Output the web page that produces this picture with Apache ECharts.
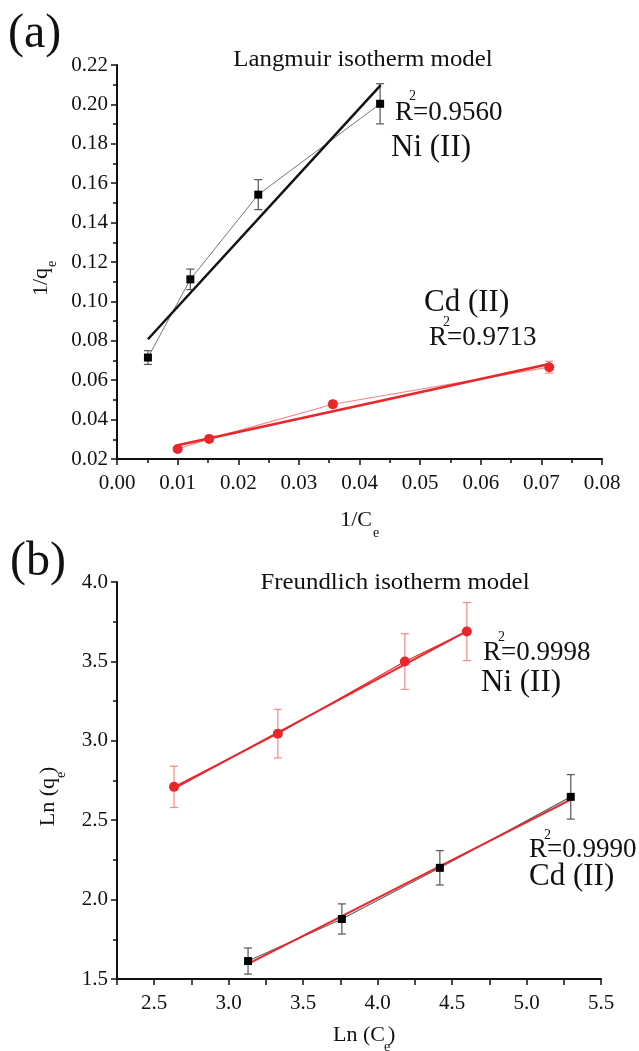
<!DOCTYPE html>
<html lang="en">
<head>
  <meta charset="utf-8">
  <title>Langmuir / Freundlich isotherms</title>
  <style>
    html, body { margin: 0; padding: 0; background: #fff; }
    #box { width: 639px; height: 1051px; }
  </style>
</head>
<body>
  <script src="https://cdn.jsdelivr.net/npm/echarts@6/dist/echarts.min.js"></script>
  <div id="box"></div>
  <script>
    // (a) Langmuir: 1/Ce vs 1/qe
    var langX_Ni = [0.0051, 0.0121, 0.0233, 0.0434];
    var langY_Ni = [0.0715, 0.1112, 0.1542, 0.2003];
    var langErr_Ni = [0.0035, 0.0052, 0.0076, 0.0102];
    var langFitX_Ni = [0.0051, 0.0435];
    var langFitY_Ni = [0.0808, 0.2098];

    var langX_Cd = [0.0100, 0.0152, 0.0356, 0.0713];
    var langY_Cd = [0.0251, 0.0302, 0.0478, 0.0666];
    var langErr_Cd = [0.0012, 0.0014, 0.0018, 0.0030];
    var langFitX_Cd = [0.0100, 0.0713];
    var langFitY_Cd = [0.0270, 0.0682];

    // (b) Freundlich: Ln(Ce) vs Ln(qe)
    var freX_Ni = [2.633, 3.330, 4.183, 4.599];
    var freY_Ni = [2.710, 3.045, 3.499, 3.688];
    var freErr_Ni = [0.130, 0.153, 0.175, 0.183];
    var freFitX_Ni = [2.633, 4.599];
    var freFitY_Ni = [2.700, 3.690];

    var freX_Cd = [3.130, 3.760, 4.418, 5.297];
    var freY_Cd = [1.613, 1.878, 2.200, 2.647];
    var freErr_Cd = [0.082, 0.095, 0.108, 0.140];
    var freFitX_Cd = [3.130, 5.297];
    var freFitY_Cd = [1.595, 2.630];

    var RED = '#e8262b';
    var RED_LIGHT = '#f28a8a';
    var FONT = '"Liberation Serif", "Times New Roman", serif';

    function pairs(xs, ys) {
      return xs.map(function (x, i) { return [x, ys[i]]; });
    }

    // error bars drawn through the axes
    function errBars(xs, ys, es, idx, color) {
      return {
        type: 'custom',
        xAxisIndex: idx, yAxisIndex: idx,
        silent: true, z: 1,
        data: xs.map(function (x, i) { return [x, ys[i] - es[i], ys[i] + es[i]]; }),
        renderItem: function (params, api) {
          var lo = api.coord([api.value(0), api.value(1)]);
          var hi = api.coord([api.value(0), api.value(2)]);
          var st = { stroke: color, lineWidth: 1.2 };
          return {
            type: 'group', children: [
              { type: 'line', shape: { x1: lo[0], y1: lo[1], x2: hi[0], y2: hi[1] }, style: st },
              { type: 'line', shape: { x1: lo[0] - 4, y1: lo[1], x2: lo[0] + 4, y2: lo[1] }, style: st },
              { type: 'line', shape: { x1: hi[0] - 4, y1: hi[1], x2: hi[0] + 4, y2: hi[1] }, style: st }
            ]
          };
        }
      };
    }

    function line(xs, ys, idx, color, width, z) {
      return {
        type: 'line', xAxisIndex: idx, yAxisIndex: idx,
        data: pairs(xs, ys), symbol: 'none', silent: true, z: z,
        lineStyle: { color: color, width: width }
      };
    }

    function points(xs, ys, idx, symbol, size, color) {
      return {
        type: 'scatter', xAxisIndex: idx, yAxisIndex: idx,
        data: pairs(xs, ys), symbol: symbol, symbolSize: size, z: 5,
        itemStyle: { color: color, opacity: 1 }
      };
    }

    function txt(text, x, y, size, extra) {
      var o = {
        type: 'text', x: x, y: y,
        style: { text: text, font: size + 'px ' + FONT, fill: '#111', align: 'left', verticalAlign: 'middle' }
      };
      if (extra) for (var k in extra) {
        if (k === 'align') o.style.align = extra[k]; else o[k] = extra[k];
      }
      return o;
    }

    function axisBase(min, max, interval, digits) {
      return {
        type: 'value', min: min, max: max, interval: interval,
        splitLine: { show: false },
        axisLine: { show: true, onZero: false, lineStyle: { color: '#111', width: 2 } },
        axisTick: { show: true, inside: false, length: 6, lineStyle: { color: '#111', width: 1.5 } },
        minorTick: { show: true, splitNumber: 2, length: 4, lineStyle: { color: '#111', width: 1.5 } },
        axisLabel: {
          fontFamily: FONT, fontSize: 21, color: '#111', margin: 9,
          formatter: function (v) { return v.toFixed(digits); }
        }
      };
    }

    var xA = axisBase(0, 0.08, 0.01, 2);
    xA.gridIndex = 0; xA.axisLabel.margin = 14;
    var yA = axisBase(0.02, 0.22, 0.02, 2);
    yA.gridIndex = 0;
    var xB = axisBase(2.25, 5.5, 0.25, 1);
    xB.gridIndex = 1; xB.axisLabel.margin = 14; xB.minorTick.show = false;
    xB.axisLabel.formatter = function (v) {
      return Math.abs(v * 2 - Math.round(v * 2)) < 1e-6 ? v.toFixed(1) : '';
    };
    var yB = axisBase(1.5, 4.0, 0.5, 1);
    yB.gridIndex = 1;

    var chart = echarts.init(document.getElementById('box'));
    var option = {
      animation: false,
      backgroundColor: '#fff',
      grid: [
        { left: 117, top: 65, width: 485, height: 394 },
        { left: 117, top: 582, width: 484, height: 397 }
      ],
      xAxis: [xA, xB],
      yAxis: [yA, yB],
      series: [
        // (a) Ni
        line(langX_Ni, langY_Ni, 0, '#777', 1, 2),
        line(langFitX_Ni, langFitY_Ni, 0, '#111', 2.5, 3),
        errBars(langX_Ni, langY_Ni, langErr_Ni, 0, '#555'),
        points(langX_Ni, langY_Ni, 0, 'rect', 8, '#000'),
        // (a) Cd
        line(langX_Cd, langY_Cd, 0, RED_LIGHT, 1.2, 2),
        line(langFitX_Cd, langFitY_Cd, 0, RED, 2.5, 3),
        errBars(langX_Cd, langY_Cd, langErr_Cd, 0, RED_LIGHT),
        points(langX_Cd, langY_Cd, 0, 'circle', 10, RED),
        // (b) Ni
        line(freX_Ni, freY_Ni, 1, RED, 1.2, 2),
        line(freFitX_Ni, freFitY_Ni, 1, RED, 2, 3),
        errBars(freX_Ni, freY_Ni, freErr_Ni, 1, RED_LIGHT),
        points(freX_Ni, freY_Ni, 1, 'circle', 10, RED),
        // (b) Cd
        line(freX_Cd, freY_Cd, 1, '#666', 1.2, 2),
        line(freFitX_Cd, freFitY_Cd, 1, RED, 2, 3),
        errBars(freX_Cd, freY_Cd, freErr_Cd, 1, '#555'),
        points(freX_Cd, freY_Cd, 1, 'rect', 8, '#000')
      ],
      graphic: [
        // panel (a)
        txt('(a)', 8, 34, 48),
        txt('Langmuir isotherm model', 363, 60, 23, { align: 'center', scaleX: 1.08 }),
        txt('R=0.9560', 395, 113, 27),
        txt('2', 409, 96, 14),
        txt('Ni (II)', 391, 148, 31),
        txt('Cd (II)', 424, 303, 31),
        txt('R=0.9713', 429, 338, 27),
        txt('2', 443, 322, 14),
        txt('1/C', 372, 520, 22, { align: 'right' }),
        txt('e', 373, 533, 14),
        {
          type: 'group', x: 41, y: 268, rotation: Math.PI / 2,
          children: [
            txt('1/q', 0, 0, 22, { align: 'right' }),
            txt('e', 1, 11, 14)
          ]
        },
        // panel (b)
        txt('(b)', 10, 562, 48),
        txt('Freundlich isotherm model', 395, 583, 23, { align: 'center', scaleX: 1.08 }),
        txt('R=0.9998', 483, 653, 27),
        txt('2', 498, 637, 14),
        txt('Ni (II)', 481, 683, 31),
        txt('R=0.9990', 529, 850, 27),
        txt('2', 544, 835, 14),
        txt('Cd (II)', 529, 877, 31),
        txt('Ln (C', 385, 1035, 22, { align: 'right' }),
        txt('e', 384, 1047, 14),
        txt(')', 388, 1035, 22),
        {
          type: 'group', x: 48, y: 778, rotation: Math.PI / 2,
          children: [
            txt('Ln (q', 0, 0, 22, { align: 'right' }),
            txt('e', 0, 13, 14),
            txt(')', 4, 0, 22)
          ]
        }
      ]
    };
    chart.setOption(option);
  </script>
</body>
</html>
